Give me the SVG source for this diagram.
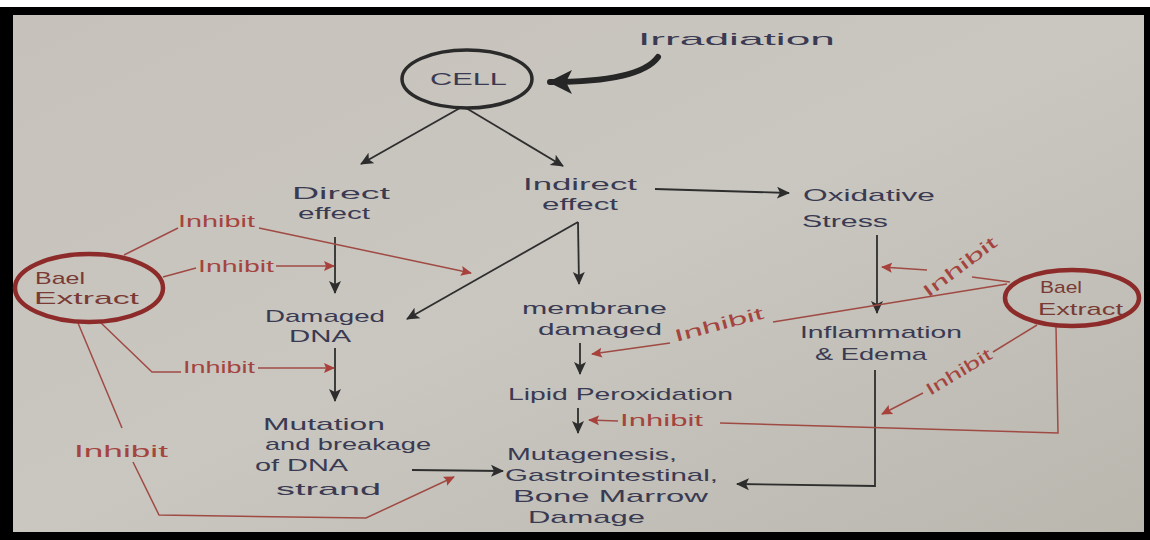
<svg xmlns="http://www.w3.org/2000/svg" width="1150" height="540" viewBox="0 0 1150 540">
<defs>
<linearGradient id="paper" x1="0" y1="0" x2="1" y2="1">
<stop offset="0" stop-color="#c7c1bb"/>
<stop offset="0.5" stop-color="#c9c7c0"/>
<stop offset="1" stop-color="#b9b7ae"/>
</linearGradient>
<marker id="ab" markerUnits="userSpaceOnUse" markerWidth="14" markerHeight="14" refX="12" refY="7" orient="auto" viewBox="0 0 14 14">
<path d="M0,1 L13,7 L0,13 L3,7 z" fill="#2d2d2d"/>
</marker>
<marker id="ar" markerUnits="userSpaceOnUse" markerWidth="12" markerHeight="12" refX="10" refY="6" orient="auto" viewBox="0 0 12 12">
<path d="M0,1 L11,6 L0,11 L2,6 z" fill="#a8403b"/>
</marker>
<marker id="ai" markerUnits="userSpaceOnUse" markerWidth="30" markerHeight="30" refX="22" refY="15" orient="auto" viewBox="0 0 30 30">
<path d="M0,3 L24,15 L0,27 L6,15 z" fill="#262626"/>
</marker>
<style>
.ink{font-family:"Liberation Sans","DejaVu Sans",sans-serif;font-size:17px;fill:#3a3a52;}
.red{font-family:"Liberation Sans","DejaVu Sans",sans-serif;font-size:17px;fill:#a5443e;}
.bl{stroke:#2e2e2e;stroke-width:1.8;fill:none;}
.rd{stroke:#a04a44;stroke-width:1.5;fill:none;}
.bael{fill:none;stroke:#8c2b29;stroke-width:4.5;}
.baeltxt{font-family:"Liberation Sans","DejaVu Sans",sans-serif;font-size:17px;fill:#7a3a34;}
</style>
</defs>
<rect x="0" y="0" width="1150" height="540" fill="#000"/>
<rect x="0" y="0" width="1150" height="7" fill="#fff"/>
<rect x="13" y="15" width="1131" height="517" fill="url(#paper)"/>

<g id="connectors">
<path class="bl" d="M460,108 L361,164" marker-end="url(#ab)"/>
<path class="bl" d="M466,108 L563,166" marker-end="url(#ab)"/>
<path class="bl" d="M655,189 L789,193" marker-end="url(#ab)"/>
<path class="bl" d="M335,237 L335,293" marker-end="url(#ab)"/>
<path class="bl" d="M578,222 L579,284" marker-end="url(#ab)"/>
<path class="bl" d="M578,222 L407,319" marker-end="url(#ab)"/>
<path class="bl" d="M877,235 L877,313" marker-end="url(#ab)"/>
<path class="bl" d="M335,348 L335,401" marker-end="url(#ab)"/>
<path class="bl" d="M580,343 L580,374" marker-end="url(#ab)"/>
<path class="bl" d="M578,408 L578,433" marker-end="url(#ab)"/>
<path class="bl" d="M412,470 L503,471" marker-end="url(#ab)"/>
<path class="bl" d="M875,370 L875,486 L737,484" marker-end="url(#ab)"/>
<path d="M658,57 Q640,82 550,82" fill="none" stroke="#262626" stroke-width="6" stroke-linecap="round" marker-end="url(#ai)"/>
<path class="rd" d="M124,255 L178,228"/>
<path class="rd" d="M259,228 L471,273" marker-end="url(#ar)"/>
<path class="rd" d="M163,277 L196,268"/>
<path class="rd" d="M276,266 L334,266" marker-end="url(#ar)"/>
<path class="rd" d="M100,322 L152,372 L181,372"/>
<path class="rd" d="M258,368 L334,368" marker-end="url(#ar)"/>
<path class="rd" d="M78,323 L122,428"/>
<path class="rd" d="M133,462 L159,515 L366,518 L454,477" marker-end="url(#ar)"/>
<path class="rd" d="M1007,284 L773,322"/>
<path class="rd" d="M670,343 L592,354" marker-end="url(#ar)"/>
<path class="rd" d="M1010,282 L972,277"/>
<path class="rd" d="M927,270 L882,267" marker-end="url(#ar)"/>
<path class="rd" d="M1037,325 L993,352"/>
<path class="rd" d="M923,393 L882,414" marker-end="url(#ar)"/>
<path class="rd" d="M1056,327 L1058,433 L720,423"/>
<path class="rd" d="M618,421 L589,420" marker-end="url(#ar)"/>
</g>

<g id="irradiation"><text class="ink" x="638" y="45" font-size="27" textLength="197" lengthAdjust="spacingAndGlyphs">Irradiation</text></g>
<g id="cell">
<ellipse cx="467" cy="79" rx="65" ry="29" fill="none" stroke="#2a2a2a" stroke-width="3.5"/>
<text class="ink" x="430" y="85" font-size="22" textLength="77" lengthAdjust="spacingAndGlyphs">CELL</text>
</g>
<g id="direct">
<text class="ink" x="292" y="199" textLength="98" lengthAdjust="spacingAndGlyphs">Direct</text>
<text class="ink" x="298" y="219" textLength="72" lengthAdjust="spacingAndGlyphs">effect</text>
</g>
<g id="indirect">
<text class="ink" x="523" y="190" textLength="114" lengthAdjust="spacingAndGlyphs">Indirect</text>
<text class="ink" x="542" y="210" textLength="76" lengthAdjust="spacingAndGlyphs">effect</text>
</g>
<g id="oxidative">
<text class="ink" x="803" y="201" font-size="19" textLength="132" lengthAdjust="spacingAndGlyphs">Oxidative</text>
<text class="ink" x="802" y="227" font-size="19" textLength="86" lengthAdjust="spacingAndGlyphs">Stress</text>
</g>
<g id="damaged-dna">
<text class="ink" x="265" y="322" textLength="120" lengthAdjust="spacingAndGlyphs">Damaged</text>
<text class="ink" x="289" y="342" textLength="62" lengthAdjust="spacingAndGlyphs">DNA</text>
</g>
<g id="membrane">
<text class="ink" x="522" y="314" textLength="145" lengthAdjust="spacingAndGlyphs">membrane</text>
<text class="ink" x="538" y="335" textLength="124" lengthAdjust="spacingAndGlyphs">damaged</text>
</g>
<g id="inflammation">
<text class="ink" x="800" y="338" font-size="18" textLength="162" lengthAdjust="spacingAndGlyphs">Inflammation</text>
<text class="ink" x="815" y="360" font-size="18" textLength="112" lengthAdjust="spacingAndGlyphs">&amp; Edema</text>
</g>
<g id="lipid">
<text class="ink" x="508" y="400" font-size="19" textLength="225" lengthAdjust="spacingAndGlyphs">Lipid Peroxidation</text>
</g>
<g id="mutation">
<text class="ink" x="263" y="430" textLength="122" lengthAdjust="spacingAndGlyphs">Mutation</text>
<text class="ink" x="265" y="450" textLength="166" lengthAdjust="spacingAndGlyphs">and breakage</text>
<text class="ink" x="255" y="471" textLength="93" lengthAdjust="spacingAndGlyphs">of DNA</text>
<text class="ink" x="276" y="495" textLength="105" lengthAdjust="spacingAndGlyphs">strand</text>
</g>
<g id="mutagenesis">
<text class="ink" x="507" y="460" textLength="170" lengthAdjust="spacingAndGlyphs">Mutagenesis,</text>
<text class="ink" x="505" y="481" textLength="213" lengthAdjust="spacingAndGlyphs">Gastrointestinal,</text>
<text class="ink" x="513" y="502" textLength="195" lengthAdjust="spacingAndGlyphs">Bone Marrow</text>
<text class="ink" x="528" y="523" textLength="117" lengthAdjust="spacingAndGlyphs">Damage</text>
</g>
<g id="bael-left">
<ellipse class="bael" cx="89" cy="288" rx="74" ry="34"/>
<text class="baeltxt" x="35" y="284" textLength="50" lengthAdjust="spacingAndGlyphs">Bael</text>
<text class="baeltxt" x="34" y="304" textLength="105" lengthAdjust="spacingAndGlyphs">Extract</text>
</g>
<g id="bael-right">
<ellipse class="bael" cx="1072" cy="298" rx="67" ry="28"/>
<text class="baeltxt" x="1040" y="293" textLength="42" lengthAdjust="spacingAndGlyphs">Bael</text>
<text class="baeltxt" x="1038" y="315" textLength="85" lengthAdjust="spacingAndGlyphs">Extract</text>
</g>
<g id="inhibit-labels">
<text class="red" x="178" y="227" textLength="77" lengthAdjust="spacingAndGlyphs">Inhibit</text>
<text class="red" x="198" y="272" textLength="76" lengthAdjust="spacingAndGlyphs">Inhibit</text>
<text class="red" x="183" y="373" textLength="72" lengthAdjust="spacingAndGlyphs">Inhibit</text>
<text class="red" x="74" y="457" font-size="19" textLength="94" lengthAdjust="spacingAndGlyphs">Inhibit</text>
<text class="red" x="620" y="426" textLength="83" lengthAdjust="spacingAndGlyphs">Inhibit</text>
<text class="red" x="0" y="0" textLength="92" lengthAdjust="spacingAndGlyphs" transform="translate(676,342) rotate(-15)">Inhibit</text>
<text class="red" x="0" y="0" textLength="88" lengthAdjust="spacingAndGlyphs" transform="translate(928,298) rotate(-37)">Inhibit</text>
<text class="red" x="0" y="0" textLength="74" lengthAdjust="spacingAndGlyphs" transform="translate(930,396) rotate(-31)">Inhibit</text>
</g>
</svg>
